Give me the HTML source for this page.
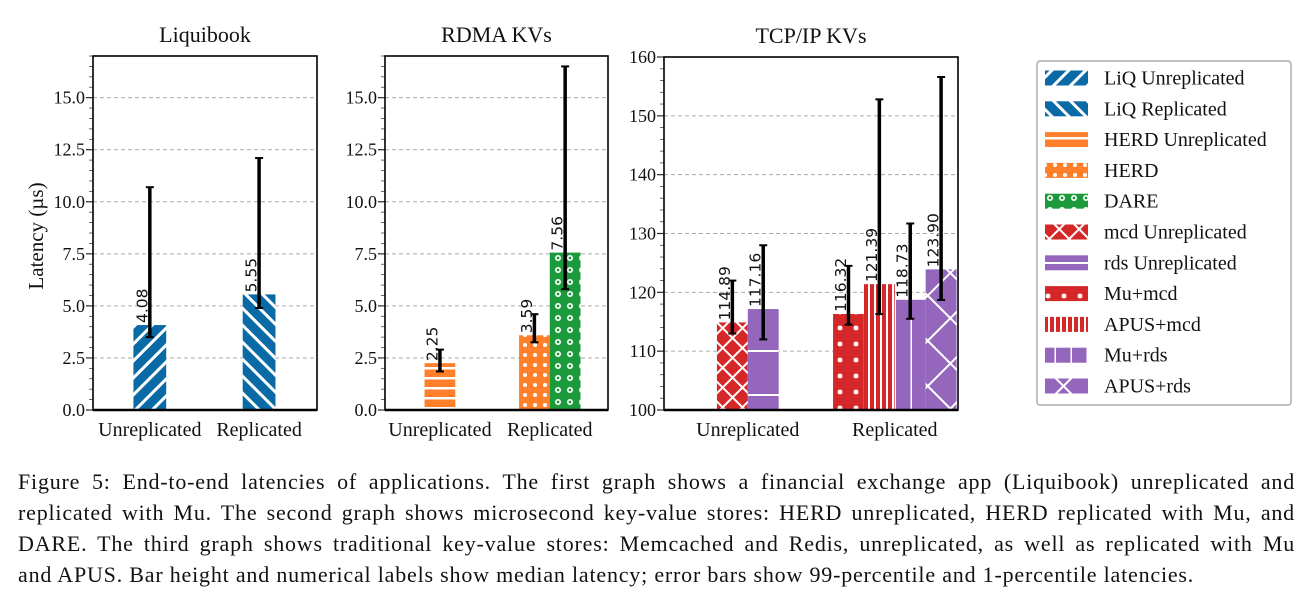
<!DOCTYPE html>
<html><head><meta charset="utf-8"><style>
html,body{margin:0;padding:0;background:#fff;}
body{width:1315px;height:593px;overflow:hidden;position:relative;}
svg{position:absolute;left:0;top:0;}
#caption{position:absolute;left:18px;top:466px;width:1277px;font-family:"Liberation Serif",serif;font-size:22px;letter-spacing:0.8px;line-height:31px;color:#111;}
#caption div{text-align:justify;text-align-last:justify;white-space:nowrap;}
#caption div.last{text-align-last:left;}
</style></head><body>
<svg id="chart" width="1315" height="460" viewBox="0 0 1315 460" font-family="Liberation Serif, serif">
<defs>
<pattern id="p-liqu" width="12" height="12" patternUnits="userSpaceOnUse" patternTransform="rotate(45)"><rect width="12" height="12" fill="#0a6aa6"/><rect x="0" y="0" width="3" height="12" fill="#fff"/></pattern>
<pattern id="p-liqr" width="12" height="12" patternUnits="userSpaceOnUse" patternTransform="rotate(-45)"><rect width="12" height="12" fill="#0a6aa6"/><rect x="0" y="0" width="3" height="12" fill="#fff"/></pattern>
<pattern id="p-herdu" width="10" height="10" patternUnits="userSpaceOnUse"><rect width="10" height="10" fill="#ff7f2a"/><rect y="7" width="10" height="2.5" fill="#fff"/></pattern>
<pattern id="p-herd" width="10" height="10" patternUnits="userSpaceOnUse"><rect width="10" height="10" fill="#ff7f2a"/><circle cx="5" cy="5" r="2" fill="#fff"/></pattern>
<pattern id="p-dare" width="12" height="12" patternUnits="userSpaceOnUse"><rect width="12" height="12" fill="#1a9a3a"/><circle cx="6" cy="6" r="3" fill="#fff"/><circle cx="6" cy="6" r="1.4" fill="#1a9a3a"/></pattern>
<pattern id="p-mcdu" width="14" height="14" patternUnits="userSpaceOnUse" patternTransform="rotate(45)"><rect width="14" height="14" fill="#d62728"/><rect width="2" height="14" fill="#fff"/><rect width="14" height="2" fill="#fff"/></pattern>
<pattern id="p-rdsu" width="30" height="44" patternUnits="userSpaceOnUse"><rect width="30" height="44" fill="#9467bd"/><rect y="42" width="30" height="2" fill="#fff"/></pattern>
<pattern id="p-mumcd" width="16" height="16" patternUnits="userSpaceOnUse"><rect width="16" height="16" fill="#d62728"/><circle cx="8" cy="8" r="2.5" fill="#fff"/></pattern>
<pattern id="p-apusmcd" width="6" height="10" patternUnits="userSpaceOnUse"><rect width="6" height="10" fill="#d62728"/><rect x="4" width="2" height="10" fill="#fff"/></pattern>
<pattern id="p-murds" width="16" height="30" patternUnits="userSpaceOnUse"><rect width="16" height="30" fill="#9467bd"/><rect x="14.5" width="1.5" height="30" fill="#fff"/></pattern>
<pattern id="p-apusrds" width="32" height="32" patternUnits="userSpaceOnUse" patternTransform="rotate(45)"><rect width="32" height="32" fill="#9467bd"/><rect width="2" height="32" fill="#fff"/><rect width="32" height="2" fill="#fff"/></pattern>
</defs>
<g id="panels"></g>
<g id="legend"></g>
</svg>
<div id="caption">
<div>Figure 5: End-to-end latencies of applications. The first graph shows a financial exchange app (Liquibook) unreplicated and</div>
<div>replicated with Mu. The second graph shows microsecond key-value stores: HERD unreplicated, HERD replicated with Mu, and</div>
<div>DARE. The third graph shows traditional key-value stores: Memcached and Redis, unreplicated, as well as replicated with Mu</div>
<div class="last">and APUS. Bar height and numerical labels show median latency; error bars show 99-percentile and 1-percentile latencies.</div>
</div>
<script>
const NS='http://www.w3.org/2000/svg';
const categories=['Unreplicated','Replicated'];
// Liquibook
const liqNames=['LiQ Unreplicated','LiQ Replicated'];
const liqCat=[0,1];
const liqOff=[0,0];
const liqMed=[4.08,5.55];
const liqLo=[3.5,4.9];
const liqHi=[10.7,12.1];
// RDMA
const rdmaNames=['HERD Unreplicated','HERD','DARE'];
const rdmaCat=[0,1,1];
const rdmaOff=[0,-0.5,0.5];
const rdmaMed=[2.25,3.59,7.56];
const rdmaLo=[1.85,3.25,5.8];
const rdmaHi=[2.9,4.6,16.5];
// TCP/IP
const tcpNames=['mcd Unreplicated','rds Unreplicated','Mu+mcd','APUS+mcd','Mu+rds','APUS+rds'];
const tcpCat=[0,0,1,1,1,1];
const tcpOff=[-0.5,0.5,-1.5,-0.5,0.5,1.5];
const tcpMed=[114.89,117.16,116.32,121.39,118.73,123.90];
const tcpLo=[113,112,114.5,116.3,115.5,118.7];
const tcpHi=[122,128,124.5,152.8,131.7,156.6];
const linTicks=[0,2.5,5,7.5,10,12.5,15];
const linTickLabels=['0.0','2.5','5.0','7.5','10.0','12.5','15.0'];
const tcpTicks=[100,110,120,130,140,150,160];
const tcpTickLabels=['100','110','120','130','140','150','160'];
const legendNames=['LiQ Unreplicated','LiQ Replicated','HERD Unreplicated','HERD','DARE','mcd Unreplicated','rds Unreplicated','Mu+mcd','APUS+mcd','Mu+rds','APUS+rds'];
const pat={'LiQ Unreplicated':'p-liqu','LiQ Replicated':'p-liqr','HERD Unreplicated':'p-herdu','HERD':'p-herd','DARE':'p-dare','mcd Unreplicated':'p-mcdu','rds Unreplicated':'p-rdsu','Mu+mcd':'p-mumcd','APUS+mcd':'p-apusmcd','Mu+rds':'p-murds','APUS+rds':'p-apusrds'};

function mk(tag,attrs,parent){const e=document.createElementNS(NS,tag);for(const k in attrs)e.setAttribute(k,attrs[k]);if(parent)parent.appendChild(e);return e;}
const root=document.getElementById('panels');

function panel(o){
  const g=mk('g',{},root);
  
  
  const y=v=>o.bottom-(v-o.ymin)/(o.ymax-o.ymin)*(o.bottom-o.top);
  const x=(c)=>o.left+(c-o.xmin)/(o.xmax-o.xmin)*(o.right-o.left);
  const t=mk('text',{x:(o.left+o.right)/2,y:o.top-14,'text-anchor':'middle','font-size':22,fill:'#111'},g);
  t.textContent=o.title;
  
  
  for(let i=0;i<o.ticks.length;i++){
    const yy=y(o.ticks[i]);
    if(i>0&&o.ticks[i]<o.ymax){const gl=mk('line',{x1:o.left,x2:o.right,y1:yy,y2:yy,stroke:'#aaa','stroke-dasharray':'4,3','stroke-width':1},g);
      
      }
    mk('line',{x1:o.left-7,x2:o.left,y1:yy,y2:yy,stroke:'#222','stroke-width':1.2},g);
    const tl=mk('text',{x:o.left-8,y:yy+6,'text-anchor':'end','font-size':18,fill:'#111'},g);
    tl.textContent=o.tickLabels[i];
    
    
  }
  for(let v=o.ymin;v<=o.ymax+1e-9;v+=o.minor){mk('line',{x1:o.left-4,x2:o.left,y1:y(v),y2:y(v),stroke:'#444','stroke-width':0.8},g);}
  for(let i=0;i<o.med.length;i++){
    const cx=x(o.cat[i]+o.off[i]*o.bw);
    const w=o.bw*(o.right-o.left)/(o.xmax-o.xmin);
    const top=y(o.med[i]);
    const r=mk('rect',{x:cx-w/2,y:top,width:w,height:o.bottom-top,fill:'url(#'+pat[o.names[i]]+')'},g);
    
    
    mk('line',{x1:cx,x2:cx,y1:y(o.lo[i]),y2:y(o.hi[i]),stroke:'#000','stroke-width':3.5},g);
    mk('line',{x1:cx-4,x2:cx+4,y1:y(o.lo[i]),y2:y(o.lo[i]),stroke:'#000','stroke-width':2},g);
    mk('line',{x1:cx-4,x2:cx+4,y1:y(o.hi[i]),y2:y(o.hi[i]),stroke:'#000','stroke-width':2},g);
    const lab=mk('text',{x:0,y:0,'font-size':15.5,'font-family':'DejaVu Sans, sans-serif',fill:'#111',transform:'translate('+(cx-2.5)+','+(top-2)+') rotate(-90)'},g);
    lab.textContent=o.fmt(o.med[i]);
    
    
  }
  mk('rect',{x:o.left,y:o.top,width:o.right-o.left,height:o.bottom-o.top,fill:'none',stroke:'#000','stroke-width':1.6},g);
  mk('line',{x1:o.left,x2:o.right,y1:o.bottom,y2:o.bottom,stroke:'#000','stroke-width':2.5},g);
  for(let c=0;c<categories.length;c++){
    const cl=mk('text',{x:x(c),y:o.bottom+26,'text-anchor':'middle','font-size':20,fill:'#111'},g);
    cl.textContent=categories[c];
    
    
  }
}
const f2=v=>v.toFixed(2);
panel({id:'liquibook',title:'Liquibook',left:93,right:317,top:56,bottom:410,ymin:0,ymax:17,xmin:-0.52,xmax:1.53,bw:0.3,ticks:linTicks,tickLabels:linTickLabels,minor:0.5,names:liqNames,cat:liqCat,off:liqOff,med:liqMed,lo:liqLo,hi:liqHi,fmt:f2});
panel({id:'rdma',title:'RDMA KVs',left:385,right:608,top:56,bottom:410,ymin:0,ymax:17,xmin:-0.5,xmax:1.53,bw:0.28,ticks:linTicks,tickLabels:linTickLabels,minor:0.5,names:rdmaNames,cat:rdmaCat,off:rdmaOff,med:rdmaMed,lo:rdmaLo,hi:rdmaHi,fmt:f2});
panel({id:'tcpip',title:'TCP/IP KVs',left:664,right:958,top:57,bottom:410,ymin:100,ymax:160,xmin:-0.57,xmax:1.43,bw:0.21,ticks:tcpTicks,tickLabels:tcpTickLabels,minor:2,names:tcpNames,cat:tcpCat,off:tcpOff,med:tcpMed,lo:tcpLo,hi:tcpHi,fmt:f2});
const yt=mk('text',{x:0,y:0,'font-size':21,'text-anchor':'middle',fill:'#111',transform:'translate(43,236) rotate(-90)'},document.getElementById('chart'));
yt.textContent='Latency (µs)';


const lg=document.getElementById('legend');
mk('rect',{x:1037,y:61,width:254,height:344,rx:3,fill:'#fff',stroke:'#999','stroke-width':1.2},lg);
for(let i=0;i<legendNames.length;i++){
  const yy=78+i*30.8;
  const e=mk('g',{},lg);
  
  
  mk('rect',{x:1045,y:yy-7.5,width:43,height:15,fill:'url(#'+pat[legendNames[i]]+')'},e);
  const t=mk('text',{x:1104,y:yy+6.5,'font-size':20,fill:'#111'},e);
  t.textContent=legendNames[i];
}
</script>
</body></html>
